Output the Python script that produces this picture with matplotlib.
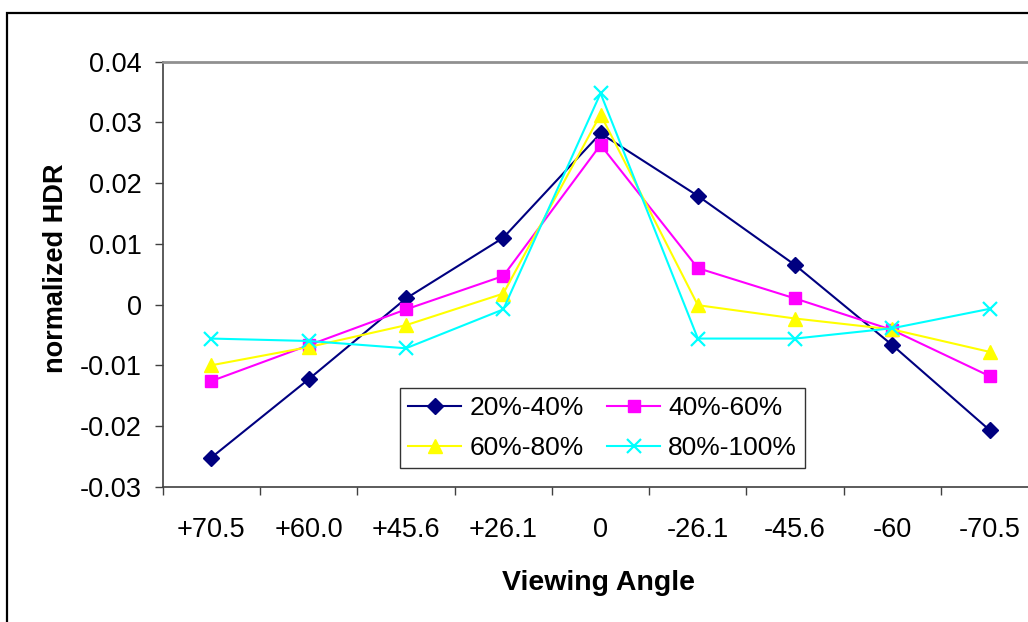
import numpy as np
import matplotlib
matplotlib.use("Agg")
import matplotlib.pyplot as plt
from matplotlib.patches import Rectangle

plt.rcParams["font.family"] = ["Liberation Sans", "DejaVu Sans"]

# Data
angles = ["+70.5", "+60.0", "+45.6", "+26.1", "0", "-26.1", "-45.6", "-60", "-70.5"]
s_20_40 = [-0.0252, -0.0123, 0.0010, 0.0110, 0.0282, 0.0179, 0.0065, -0.0067, -0.0207]
s_40_60 = [-0.0126, -0.0067, -0.0008, 0.0047, 0.0263, 0.0060, 0.0010, -0.0042, -0.0118]
s_60_80 = [-0.0100, -0.0070, -0.0034, 0.0018, 0.0313, -0.0001, -0.0023, -0.0041, -0.0078]
s_80_100 = [-0.0056, -0.0060, -0.0072, -0.0008, 0.0348, -0.0056, -0.0056, -0.0039, -0.0007]
series_labels = ["20%-40%", "40%-60%", "60%-80%", "80%-100%"]
y_ticks = [-0.03, -0.02, -0.01, 0.0, 0.01, 0.02, 0.03, 0.04]
y_tick_labels = ["-0.03", "-0.02", "-0.01", "0", "0.01", "0.02", "0.03", "0.04"]

W, H = 1028, 622
fig = plt.figure(figsize=(W / 100, H / 100), dpi=100)
fig.patch.set_facecolor("white")

# outer chart border (cropped on right and bottom in the reference)
fig.patches.append(Rectangle((7 / W, -0.1), 1.2, 1 - 12.5 / H + 0.1,
                             transform=fig.transFigure, fill=False,
                             edgecolor="black", linewidth=1.6))

ax = fig.add_axes([162.7 / W, 1 - 486.7 / H, 875.7 / W, 425 / H])
x = np.arange(len(angles))

styles = [
    dict(color="#000080", marker="D", markersize=8.5),
    dict(color="#FF00FF", marker="s", markersize=8),
    dict(color="#FFFF00", marker="^", markersize=10),
    dict(color="#00FFFF", marker="x", markersize=10, markeredgewidth=1.6),
]
handles = []
for vals, lab, st in zip([s_20_40, s_40_60, s_60_80, s_80_100], series_labels, styles):
    h, = ax.plot(x, vals, linewidth=1.5, label=lab, clip_on=False, **st)
    handles.append(h)

ax.set_xlim(-0.5, len(angles) - 0.5)
ax.set_ylim(-0.03, 0.04)

fs = 19.5

# boundary ticks without labels, labels at category centers
ax.set_xticks(np.arange(-0.5, len(angles), 1.0))
ax.set_xticklabels([])
ax.set_xticks(x, minor=True)
ax.set_xticklabels(angles, minor=True, fontsize=fs)
ax.tick_params(axis="x", which="major", direction="out", length=6, width=1, color="#404040")
ax.tick_params(axis="x", which="minor", length=0, pad=22)

ax.set_yticks(y_ticks)
ax.set_yticklabels(y_tick_labels, fontsize=fs)
ax.tick_params(axis="y", direction="out", length=6, width=1, color="#404040", pad=9)

for side in ["left", "bottom"]:
    ax.spines[side].set_color("#404040")
    ax.spines[side].set_linewidth(1.2)
ax.spines["top"].set_color("#909090")
ax.spines["top"].set_linewidth(2)
ax.spines["right"].set_color("#909090")
ax.spines["right"].set_linewidth(2)

fig.text(56 / W, 1 - 268 / H, "normalized HDR", rotation=90, ha="center", va="center",
         fontsize=fs, fontweight="bold")
fig.text(599 / W, 1 - 583 / H, "Viewing Angle", ha="center", va="center",
         fontsize=20.5, fontweight="bold")

leg = ax.legend([handles[0], handles[2], handles[1], handles[3]],
                [series_labels[0], series_labels[2], series_labels[1], series_labels[3]],
                ncol=2, loc="lower left", bbox_to_anchor=(0.271, 0.043),
                borderaxespad=0, fontsize=19, frameon=True, fancybox=False,
                handlelength=2.0, handletextpad=0.3, columnspacing=0.9,
                labelspacing=0.6, borderpad=0.32)
leg.get_frame().set_edgecolor("black")
leg.get_frame().set_linewidth(1.0)

fig.savefig("out.png", dpi=100)
